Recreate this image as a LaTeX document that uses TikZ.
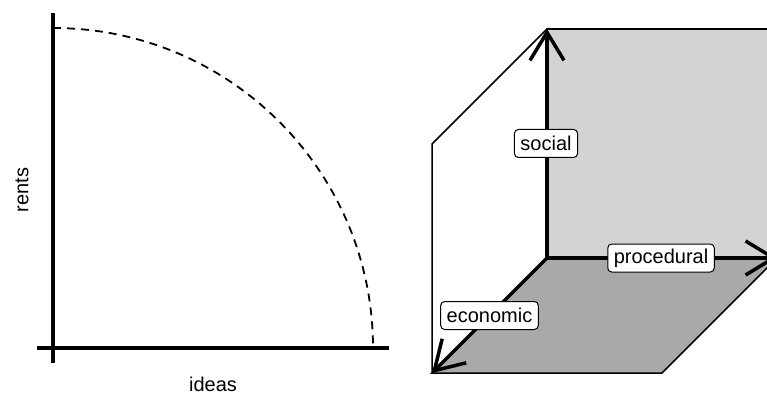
\documentclass[tikz,border=0pt]{standalone}
\usepackage{fontspec}
\setmainfont{Liberation Sans}
\usetikzlibrary{arrows.meta}
\definecolor{wallgray}{HTML}{D3D3D3}
\definecolor{floorgray}{HTML}{A9A9A9}
\begin{document}
\begin{tikzpicture}[x=1pt,y=1pt,
  axisline/.style={line width=3.5pt},
  edge/.style={line width=1.5pt, line join=miter},
  barb/.style={-{Straight Barb[length=28pt,width=34pt,line width=3.5pt]}},
  tag/.style={draw, fill=white, line width=1pt, rounded corners=4pt,
    inner xsep=6pt, inner ysep=3pt, minimum height=28pt},
  txt/.style={font=\fontsize{20}{24}\selectfont}]
\useasboundingbox (0,0) rectangle (767,-395);
\clip (0,0) rectangle (767,-395);

% ---- left panel: trade-off between rents and ideas ----
\coordinate (yTop) at (53,-13);
\coordinate (yBot) at (53,-363);
\coordinate (xLeft) at (37,-348);
\coordinate (xRight) at (389,-348);
\draw[axisline] (yBot) -- (yTop);
\draw[axisline] (xLeft) -- (xRight);
\draw[line width=1.8pt, dash pattern=on 8pt off 6pt]
  (53,-28) arc[start angle=90, end angle=0, radius=320pt];
\node[txt, rotate=90] (rents) at (22,-190) {rents};
\node[txt] (ideas) at (213,-384) {ideas};

% ---- right panel: three-dimensional space ----
\coordinate (O) at (547,-258);
\coordinate (T) at (547,-29);
\coordinate (E) at (432,-373);
\coordinate (R) at (777,-258);
\coordinate (L) at (432,-144);
\coordinate (F) at (662,-373);
\coordinate (TR) at (777,-29);

% back wall
\filldraw[edge, fill=wallgray] (O) -- (T) -- (TR) -- (R) -- cycle;
% floor
\filldraw[edge, fill=floorgray] (O) -- (R) -- (F) -- (E) -- cycle;
% left face outline
\draw[edge] (T) -- (L) -- (E);

% axes
\draw[axisline, barb] (O) -- (T);
\draw[axisline, barb] (O) -- (R);
\draw[axisline, barb] (O) -- (E);

% axis labels
\node[tag, txt] (social) at (546,-143.5) {social};
\node[tag, txt] (procedural) at (661,-258) {procedural};
\node[tag, txt] (economic) at (489.5,-315.5) {economic};
\end{tikzpicture}
\end{document}
